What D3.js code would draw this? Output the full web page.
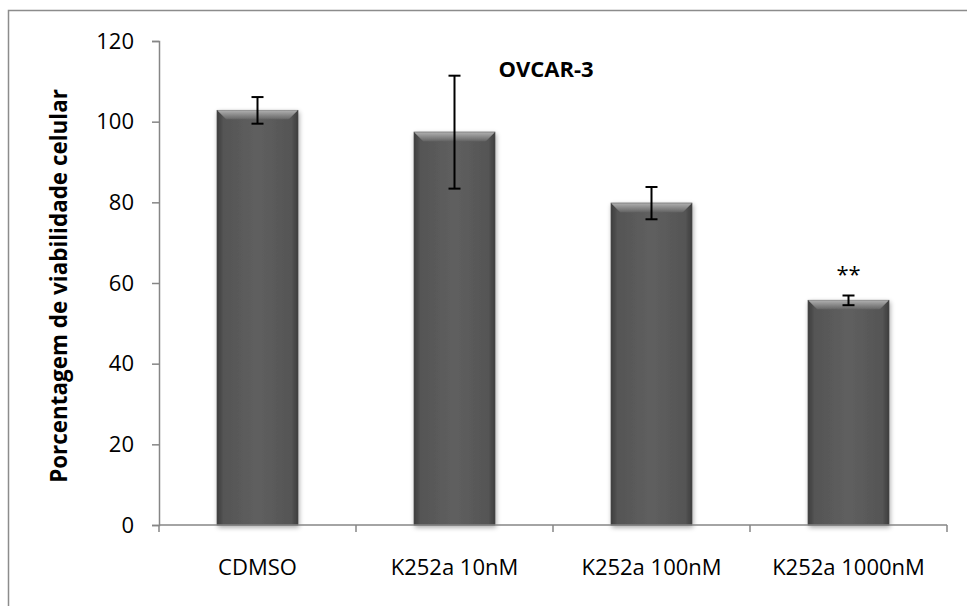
<!DOCTYPE html>
<html><head><meta charset="utf-8">
<script src="https://cdn.jsdelivr.net/npm/d3@7"></script>
<style>body{margin:0;background:#fff}svg{display:block}</style>
</head><body>
<script>
const categories = ["CDMSO", "K252a 10nM", "K252a 100nM", "K252a 1000nM"];
const values = [102.8, 97.4, 79.8, 55.7];
const errors = [3.3, 14.0, 4.0, 1.2];
const marks = ["", "", "", "**"];
const yTicks = [0, 20, 40, 60, 80, 100, 120];

const W = 967, H = 606;
const svg = d3.select("body").append("svg").attr("width", W).attr("height", H);
const font = "'Open Sans', sans-serif";

const defs = svg.append("defs");
const gh = defs.append("linearGradient").attr("id", "gh");
[[0,"#3e3e3e"],[0.08,"#555"],[0.5,"#5f5f5f"],[0.92,"#555"],[1,"#3e3e3e"]].forEach(([o,c]) =>
  gh.append("stop").attr("offset", o).attr("stop-color", c));
const gv = defs.append("linearGradient").attr("id", "gv").attr("x1",0).attr("y1",0).attr("x2",0).attr("y2",1);
[[0,"#b0b0b0"],[0.5,"#8a8a8a"],[1,"#646464"]].forEach(([o,c]) =>
  gv.append("stop").attr("offset", o).attr("stop-color", c));
const f = defs.append("filter").attr("id","sh").attr("x","-20%").attr("y","-5%").attr("width","140%").attr("height","115%");
f.append("feGaussianBlur").attr("in","SourceAlpha").attr("stdDeviation",2.5);
f.append("feOffset").attr("dx",1).attr("dy",2).attr("result","b");
f.append("feComponentTransfer").append("feFuncA").attr("type","linear").attr("slope",0.35);
const fm = f.append("feMerge"); fm.append("feMergeNode"); fm.append("feMergeNode").attr("in","SourceGraphic");

// outer frame (cut off at right and bottom)
svg.append("rect").attr("x", 8.5).attr("y", 10.5).attr("width", 980).attr("height", 620)
  .attr("fill", "none").attr("stroke", "#8c8c8c").attr("stroke-width", 1.5);

const x = d3.scaleBand().domain(categories).range([159, 947]).paddingInner(0.59).paddingOuter(0.295);
const xb = d3.scaleBand().domain(categories).range([159, 947]);
const y = d3.scaleLinear().domain([0, 120]).range([525, 41]);

// bars
const g = svg.append("g");
categories.forEach((c, i) => {
  const x0 = x(c), bw = x.bandwidth(), y0 = y(values[i]), y1 = y(0);
  const bg = g.append("g").attr("filter", "url(#sh)");
  bg.append("rect").attr("x", x0).attr("y", y0).attr("width", bw).attr("height", y1 - y0)
    .attr("fill", "url(#gh)").attr("stroke", "#333").attr("stroke-width", 0.8);
  const bv = 9;
  bg.append("path").attr("d", `M${x0},${y0}L${x0+bw},${y0}L${x0+bw-bv},${y0+bv}L${x0+bv},${y0+bv}Z`)
    .attr("fill", "url(#gv)");
});

// axes
const axisColor = "#868686";
const yAxis = svg.append("g").attr("transform", "translate(159,0)")
  .call(d3.axisLeft(y).tickValues(yTicks).tickSize(7).tickPadding(18));
const xAxis = svg.append("g").attr("transform", `translate(0,${y(0)})`);
xAxis.append("line").attr("x1", 159).attr("x2", 947).attr("stroke", axisColor).attr("stroke-width", 1.5);
xAxis.selectAll("line.t").data(categories.concat(["end"])).enter().append("line")
  .attr("x1", (d, i) => i < categories.length ? xb(d) : 947)
  .attr("x2", (d, i) => i < categories.length ? xb(d) : 947)
  .attr("y1", 0).attr("y2", 7).attr("stroke", axisColor).attr("stroke-width", 1.5);
xAxis.selectAll("text").data(categories).enter().append("text")
  .attr("x", d => xb(d) + xb.bandwidth() / 2).attr("y", 50)
  .attr("text-anchor", "middle").attr("font-family", font).attr("font-size", 22).attr("fill", "#000")
  .text(d => d);
yAxis.select(".domain").attr("stroke", axisColor).attr("stroke-width", 1.5);
yAxis.selectAll(".tick line").attr("stroke", axisColor).attr("stroke-width", 1.5);
yAxis.selectAll(".tick text").attr("font-family", font).attr("font-size", 22).attr("fill", "#000");

// error bars
const eg = svg.append("g").attr("stroke", "#000").attr("stroke-width", 2);
categories.forEach((c, i) => {
  const cx = x(c) + x.bandwidth() / 2;
  const top = y(values[i] + errors[i]), bot = y(values[i] - errors[i]);
  eg.append("line").attr("x1", cx).attr("x2", cx).attr("y1", top).attr("y2", bot);
  eg.append("line").attr("x1", cx - 6).attr("x2", cx + 6).attr("y1", top).attr("y2", top);
  eg.append("line").attr("x1", cx - 6).attr("x2", cx + 6).attr("y1", bot).attr("y2", bot);
  if (marks[i]) {
    svg.append("text").attr("x", cx).attr("y", top - 14).attr("text-anchor", "middle")
      .attr("font-family", font).attr("font-size", 22).attr("fill", "#000").text(marks[i]);
  }
});

// title
svg.append("text").attr("x", 546).attr("y", 77).attr("text-anchor", "middle")
  .attr("font-family", font).attr("font-weight", "bold").attr("font-size", 22).text("OVCAR-3");

// y label
const yl = svg.append("text").attr("transform", "translate(67,286) rotate(-90)").attr("text-anchor", "middle")
  .attr("font-family", font).attr("font-weight", "bold").attr("font-size", 20)
  .text("Porcentagem de viabilidade celular");
const len = yl.node().getComputedTextLength();
yl.attr("font-size", 20 * 394 / len);
</script>
</body></html>
